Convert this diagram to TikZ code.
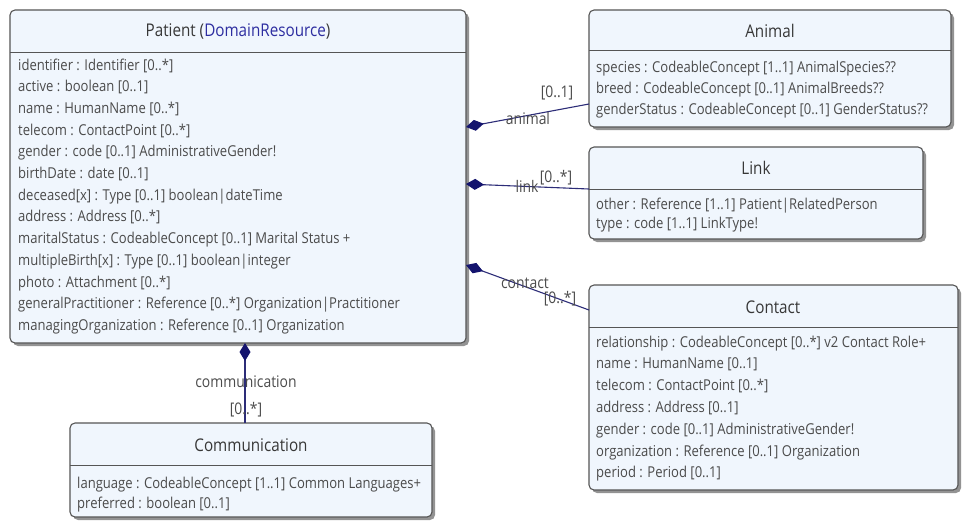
\documentclass[tikz,border=0pt]{standalone}
\usepackage{fontspec}
\setmainfont{Open Sans}[FakeStretch=0.87]
\usetikzlibrary{arrows.meta,shadows}

\definecolor{boxfill}{RGB}{240,246,253}
\definecolor{boxline}{RGB}{85,85,85}
\definecolor{rowtext}{RGB}{75,75,75}
\definecolor{titletext}{RGB}{55,55,55}
\definecolor{linkblue}{RGB}{45,45,160}
\definecolor{assoc}{RGB}{45,45,120}
\definecolor{diamondfill}{RGB}{20,20,110}

\tikzset{
  classbox/.style={draw=boxline, line width=1.1pt, fill=boxfill,
    rounded corners=5pt, inner sep=0pt, outer sep=0pt, anchor=north west,
    drop shadow={shadow xshift=3pt, shadow yshift=-3pt,
      fill=black!70, opacity=0.6}},
  divider/.style={draw=boxline, line width=0.9pt},
  classtitle/.style={font=\fontsize{17.5}{20}\selectfont, text=titletext, inner sep=0pt},
  attr/.style={font=\fontsize{15}{18}\selectfont, text=rowtext, inner sep=0pt, anchor=base west},
  role/.style={font=\fontsize{16}{18}\selectfont, text=rowtext, inner sep=0pt},
  assocline/.style={draw=assoc, line width=1.1pt},
  composite/.style={assocline, {Diamond[length=18pt,width=11pt,color=diamondfill]}-}
}

\begin{document}
\begin{tikzpicture}[x=1pt,y=-1pt]
\useasboundingbox (0,0) rectangle (966,520);
\fill[white] (0,0) rectangle (966,520);

% ---------- Patient ----------
\node[classbox, minimum width=456pt, minimum height=333pt] (patient) at (10,10) {};
\draw[divider] (patient.west |- 0,52) -- (patient.east |- 0,52);
\node[classtitle] (patient-title) at (238,31) {Patient (\textcolor{linkblue}{DomainResource})};
\foreach \t [count=\i] in {
  identifier : Identifier [0..*],
  active : boolean [0..1],
  name : HumanName [0..*],
  telecom : ContactPoint [0..*],
  gender : code [0..1] AdministrativeGender!,
  birthDate : date [0..1],
  deceased[x] : Type [0..1] boolean|dateTime,
  address : Address [0..*],
  maritalStatus : CodeableConcept [0..1] Marital Status +,
  multipleBirth[x] : Type [0..1] boolean|integer,
  photo : Attachment [0..*],
  generalPractitioner : Reference [0..*] Organization|Practitioner,
  managingOrganization : Reference [0..1] Organization}
  \node[attr] (patient-a\i) at (18,{70+21.7*(\i-1)}) {\t};

% ---------- Animal ----------
\node[classbox, minimum width=362pt, minimum height=117pt] (animal) at (589,10) {};
\draw[divider] (animal.west |- 0,50) -- (animal.east |- 0,50);
\node[classtitle] (animal-title) at (770,31) {Animal};
\foreach \t [count=\i] in {
  species : CodeableConcept [1..1] AnimalSpecies??,
  breed : CodeableConcept [0..1] AnimalBreeds??,
  genderStatus : CodeableConcept [0..1] GenderStatus??}
  \node[attr] (animal-a\i) at (596,{72+21*(\i-1)}) {\t};

% ---------- Link ----------
\node[classbox, minimum width=334pt, minimum height=92pt] (link) at (589,147) {};
\draw[divider] (link.west |- 0,189) -- (link.east |- 0,189);
\node[classtitle] (link-title) at (756,168) {Link};
\foreach \t [count=\i] in {
  other : Reference [1..1] Patient|RelatedPerson,
  type : code [1..1] LinkType!}
  \node[attr] (link-a\i) at (596,{209+19.5*(\i-1)}) {\t};

% ---------- Contact ----------
\node[classbox, minimum width=369pt, minimum height=205pt] (contact) at (589,285) {};
\draw[divider] (contact.west |- 0,327) -- (contact.east |- 0,327);
\node[classtitle] (contact-title) at (773,307) {Contact};
\foreach \t [count=\i] in {
  relationship : CodeableConcept [0..*] v2 Contact Role+,
  name : HumanName [0..1],
  telecom : ContactPoint [0..*],
  address : Address [0..1],
  gender : code [0..1] AdministrativeGender!,
  organization : Reference [0..1] Organization,
  period : Period [0..1]}
  \node[attr] (contact-a\i) at (596,{347+21.8*(\i-1)}) {\t};

% ---------- Communication ----------
\node[classbox, minimum width=362pt, minimum height=94pt] (communication) at (70,423) {};
\draw[divider] (communication.west |- 0,465) -- (communication.east |- 0,465);
\node[classtitle] (communication-title) at (251,445) {Communication};
\foreach \t [count=\i] in {
  language : CodeableConcept [1..1] Common Languages+,
  preferred : boolean [0..1]}
  \node[attr] (communication-a\i) at (77,{488+20.5*(\i-1)}) {\t};

% ---------- Compositions ----------
\coordinate (p-animal) at (patient.east |- 0,127);
\coordinate (animal-in) at (animal.west |- 0,104);
\draw[composite] (p-animal) -- (animal-in);
\node[role] (animal-role) at (528,118) {animal};
\node[role] (animal-mult) at (557,93) {[0..1]};

\coordinate (p-link) at (patient.east |- 0,184);
\coordinate (link-in) at (link.west |- 0,189);
\draw[composite] (p-link) -- (link-in);
\node[role] (link-role) at (527,186) {link};
\node[role] (link-mult) at (556,178) {[0..*]};

\coordinate (p-contact) at (patient.east |- 0,265);
\coordinate (contact-in) at (contact.west |- 0,310);
\draw[composite] (p-contact) -- (contact-in);
\node[role] (contact-role) at (525,283) {contact};
\node[role] (contact-mult) at (560,299) {[0..*]};

\coordinate (p-comm) at (patient.south -| 245,0);
\coordinate (comm-in) at (communication.north -| 245,0);
\draw[composite] (p-comm) -- (comm-in);
\node[role] (comm-role) at (246,382) {communication};
\node[role] (comm-mult) at (246,410) {[0..*]};
\end{tikzpicture}
\end{document}
